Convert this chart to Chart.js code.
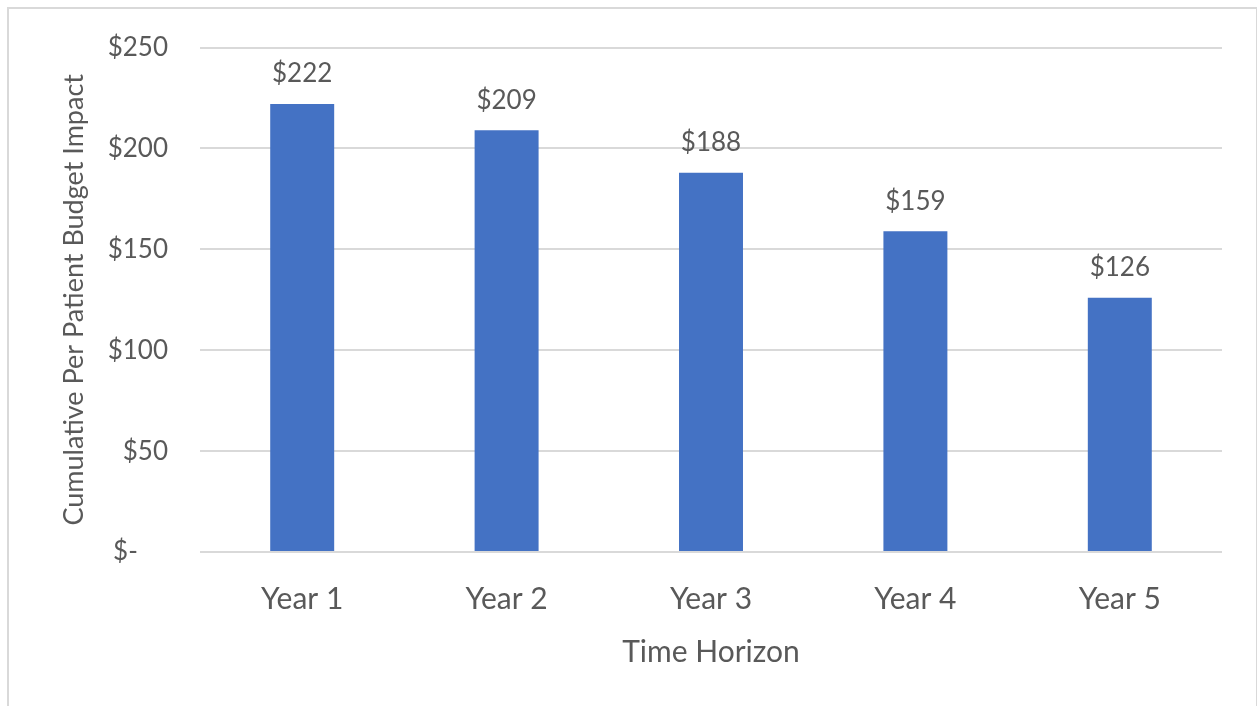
<!DOCTYPE html>
<html>
<head>
<meta charset="utf-8">
<script src="https://cdn.jsdelivr.net/npm/chart.js@4.4.1/dist/chart.umd.min.js"></script>
<style>
  html, body { margin: 0; padding: 0; background: #fff; overflow: hidden; }
  #frame {
    position: absolute; left: 7px; top: 7px; width: 1247px; height: 720px;
    border-left: 2px solid #D9D9D9; border-top: 2px solid #D9D9D9; border-right: 1px solid #D9D9D9;
  }
  #wrap { position: absolute; left: 0; top: 0; width: 1257px; height: 706px; }
</style>
</head>
<body>
<div id="frame"></div>
<div id="wrap"><canvas id="chart" width="1257" height="706"></canvas></div>
<script>
// ——— DATA ———
const years = ['Year 1', 'Year 2', 'Year 3', 'Year 4', 'Year 5'];
const budgetImpact = [222, 209, 188, 159, 126];
const yTicks = [0, 50, 100, 150, 200, 250];

const FONT = "Lato, 'Open Sans', sans-serif";
const TEXT = '#595959';
const GRID = '#D9D9D9';
const BAR = '#4472C4';

function fmtDollar(v) {
  return v === 0 ? '$-\u2007\u2007' : '$' + v;
}

// value labels above bars
const barLabels = {
  id: 'barLabels',
  afterDatasetsDraw(chart) {
    const ctx = chart.ctx;
    const meta = chart.getDatasetMeta(0);
    ctx.save();
    ctx.font = `26px ${FONT}`;
    ctx.fillStyle = TEXT;
    ctx.textAlign = 'center';
    ctx.textBaseline = 'bottom';
    meta.data.forEach((bar, i) => {
      ctx.fillText(fmtDollar(budgetImpact[i]), bar.x, bar.y - 17);
    });
    ctx.restore();
  }
};

new Chart(document.getElementById('chart'), {
  type: 'bar',
  data: {
    labels: years,
    datasets: [{
      data: budgetImpact,
      backgroundColor: BAR,
      borderWidth: 0,
      barPercentage: 0.313,
      categoryPercentage: 1
    }]
  },
  options: {
    responsive: false,
    animation: false,
    layout: { padding: { left: 54, right: 35, top: 42, bottom: 32 } },
    plugins: { legend: { display: false }, tooltip: { enabled: false } },
    scales: {
      x: {
        grid: { display: false },
        border: { display: false },
        ticks: { color: TEXT, font: { family: FONT, size: 30 }, padding: 21 },
        title: { display: true, text: 'Time Horizon', color: TEXT, font: { family: FONT, size: 30 } },
        afterFit(scale) { scale.height = 122; }
      },
      y: {
        min: 0, max: 250,
        afterBuildTicks(scale) { scale.ticks = yTicks.map(v => ({ value: v })); },
        grid: { color: GRID, lineWidth: 2, drawTicks: false },
        border: { display: false },
        ticks: { color: TEXT, font: { family: FONT, size: 26 }, padding: 32, callback: v => fmtDollar(v) },
        title: { display: true, text: 'Cumulative Per Patient Budget Impact', color: TEXT, font: { family: FONT, size: 27 } },
        afterFit(scale) { scale.width = 146; }
      }
    }
  },
  plugins: [barLabels]
});
</script>
</body>
</html>
